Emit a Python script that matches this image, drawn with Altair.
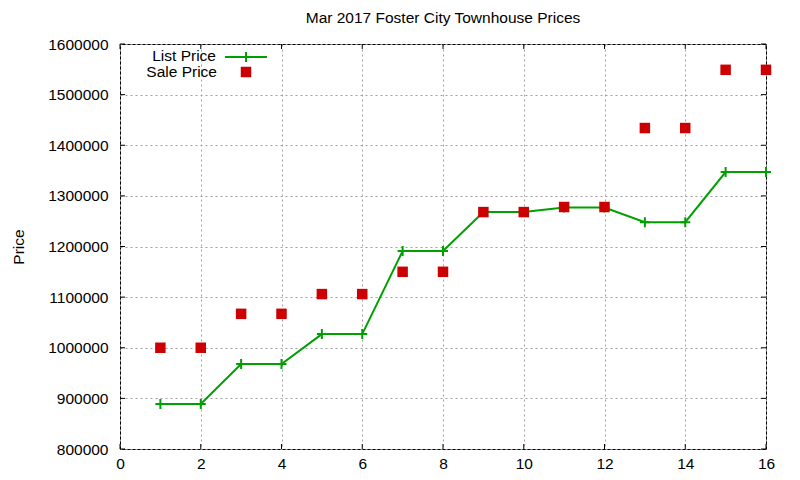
import altair as alt
import pandas as pd

x_vals = list(range(1, 17))
list_price = [889000, 889000, 968000, 968000, 1027000, 1027000, 1191000, 1191000,
              1268000, 1268000, 1277000, 1277000, 1248000, 1248000, 1347000, 1347000]
sale_price = [1000000, 1000000, 1067000, 1067000, 1106000, 1106000, 1150000, 1150000,
              1268000, 1268000, 1278000, 1278000, 1434000, 1434000, 1549000, 1549000]
x_ticks = [0, 2, 4, 6, 8, 10, 12, 14, 16]
y_ticks = [800000, 900000, 1000000, 1100000, 1200000, 1300000, 1400000, 1500000, 1600000]

df = pd.DataFrame({"n": x_vals, "list": list_price, "sale": sale_price})
xt = pd.DataFrame({"n": x_ticks})
yt = pd.DataFrame({"list": y_ticks})

FONT = "Liberation Sans"
GREEN = "#00A000"
RED = "#CC0000"
W, H = 646, 405

xscale = alt.Scale(domain=[0, 16], nice=False, zero=False)
yscale = alt.Scale(domain=[800000, 1600000], nice=False, zero=False)

xaxis = alt.Axis(values=x_ticks, title=None, grid=True, ticks=False, domain=False,
                 labelPadding=7, labelFontSize=15.5, labelFont=FONT,
                 labelColor="#000", gridColor="#a0a0a0", gridDash=[2, 3],
                 gridWidth=1, labelFlush=False)
yaxis = alt.Axis(values=y_ticks, title="Price", format="d", grid=True, ticks=False,
                 domain=False, labelPadding=12, labelFontSize=15.5, labelFont=FONT,
                 labelColor="#000", gridColor="#a0a0a0", gridDash=[2, 3],
                 gridWidth=1, titleFont=FONT, titleFontSize=15.5,
                 titleFontWeight="normal", titleColor="#000", titlePadding=21,
                 labelFlush=False)

X = alt.X("n:Q", scale=xscale, axis=xaxis)

base = alt.Chart(df)

line = base.mark_line(color=GREEN, strokeWidth=2).encode(
    x=X, y=alt.Y("list:Q", scale=yscale, axis=yaxis))

plus_path = "M-1,0L1,0M0,-1L0,1"
plus = base.mark_point(shape=plus_path, size=100, filled=False, color=GREEN,
                       strokeWidth=2, opacity=1).encode(
    x=X, y=alt.Y("list:Q", scale=yscale, axis=yaxis))

squares = base.mark_square(size=110, color=RED, opacity=1).encode(
    x=X, y=alt.Y("sale:Q", scale=yscale, axis=yaxis))

TL = 5
xtick_bottom = alt.Chart(xt).mark_rule(color="black", strokeWidth=1).encode(
    x=X, y=alt.value(H - TL), y2=alt.value(H))
xtick_top = alt.Chart(xt).mark_rule(color="black", strokeWidth=1).encode(
    x=X, y=alt.value(0), y2=alt.value(TL))
ytick_left = alt.Chart(yt).mark_rule(color="black", strokeWidth=1).encode(
    y=alt.Y("list:Q", scale=yscale, axis=yaxis), x=alt.value(0), x2=alt.value(TL))
ytick_right = alt.Chart(yt).mark_rule(color="black", strokeWidth=1).encode(
    y=alt.Y("list:Q", scale=yscale, axis=yaxis), x=alt.value(W - TL), x2=alt.value(W))

one = alt.Data(values=[{}])
leg_text1 = alt.Chart(one).mark_text(text="List Price", align="right", baseline="middle",
                                     font=FONT, fontSize=15.5, color="#000").encode(
    x=alt.value(96), y=alt.value(12))
leg_text2 = alt.Chart(one).mark_text(text="Sale Price", align="right", baseline="middle",
                                     font=FONT, fontSize=15.5, color="#000").encode(
    x=alt.value(97), y=alt.value(28))
leg_line = alt.Chart(one).mark_rule(color=GREEN, strokeWidth=2).encode(
    x=alt.value(105), x2=alt.value(147), y=alt.value(13))
leg_plus = alt.Chart(one).mark_point(shape=plus_path, size=100, filled=False, color=GREEN,
                                     strokeWidth=2, opacity=1).encode(
    x=alt.value(126), y=alt.value(13))
leg_sq = alt.Chart(one).mark_square(size=110, color=RED, opacity=1).encode(
    x=alt.value(126), y=alt.value(28))

chart = alt.layer(
    line, xtick_bottom, xtick_top, ytick_left, ytick_right, plus, squares,
    leg_text1, leg_text2, leg_line, leg_plus, leg_sq,
).properties(
    width=W, height=H,
    title=alt.TitleParams("Mar 2017 Foster City Townhouse Prices", font=FONT, fontSize=15.5,
                          fontWeight="normal", color="#000", anchor="middle", frame="group",
                          offset=11),
    autosize=alt.AutoSizeParams(type="none"),
    padding={"left": 112, "top": 36, "right": 26, "bottom": 24},
).configure(
    background="white",
    view=alt.ViewConfig(stroke="black", strokeWidth=1, strokeOpacity=1),
)

chart.save("out.html", embed_options={"renderer": "svg", "actions": False})
